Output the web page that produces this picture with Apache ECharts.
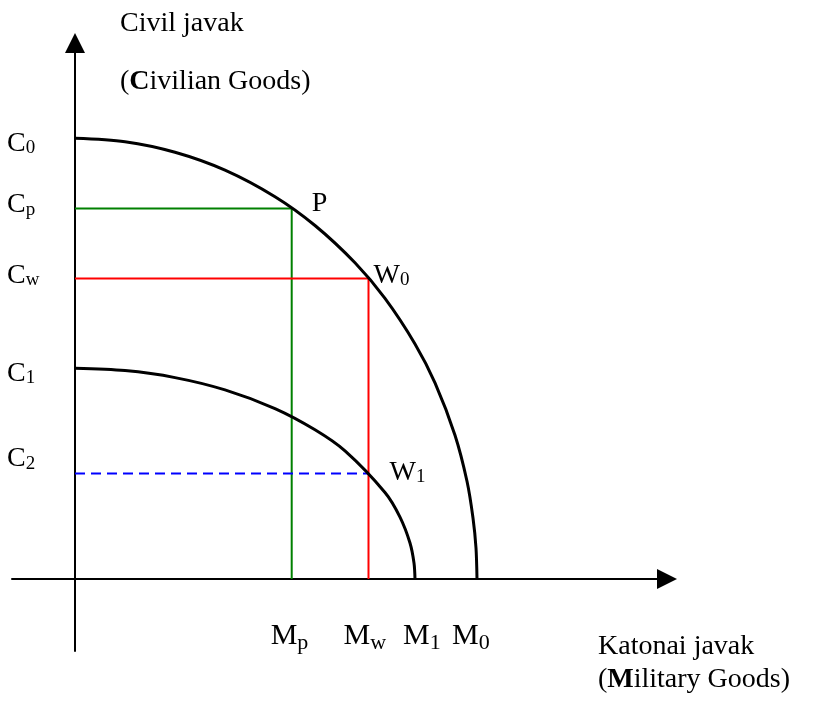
<!DOCTYPE html>
<html>
<head>
<meta charset="UTF-8">
<title>Civil javak - Katonai javak</title>
<script src="https://cdn.jsdelivr.net/npm/echarts@6/dist/echarts.min.js"></script>
<style>
    html,body{margin:0;padding:0;background:#fff;}
    #main{width:820px;height:701px;}
</style>
</head>
<body>
<div id="main"></div>
<script>
// tick labels on the axes
var yTickNames = ['C0', 'Cp', 'Cw', 'C1', 'C2'];
var yTickValues = [44.07, 37.0, 29.95, 21.07, 10.5];
var xTickNames = ['Mp', 'Mw', 'M1', 'M0'];
var xTickValues = [21.67, 29.35, 34.0, 40.2];

// named points
var pointNames = ['P', 'W0', 'W1'];
var pointX = [21.67, 29.35, 29.35];
var pointY = [37.05, 30.05, 10.55];

// the two curves
var outerCurve = [[0, 44.07], [5, 43.73], [10, 42.68], [15, 40.89], [20, 38.23],
    [24, 35.35], [28, 31.62], [31, 28.06], [34, 23.51], [36, 19.61], [38, 14.38],
    [39.2, 9.77], [39.8, 6.1], [40.1, 3.1], [40.2, 0]];
var innerCurve = [[0, 21.07], [5, 20.84], [10, 20.14], [15, 18.91], [20, 17.04],
    [24, 14.92], [27, 12.81], [31, 8.65], [32.5, 6.19], [33.5, 3.6], [33.9, 1.6], [34.0, 0]];

// label placement (pixels)
var yLabelShift = [[-68, 5], [-68, -4], [-68, -4], [-68, 5], [-68, -15]];
var xLabelShift = [[-21, 57], [-25, 57], [-12, 57], [-25, 57]];
var pointLabelShift = [[20, -5], [5, -3], [21, -1]];

var serif = '"Liberation Serif", "Times New Roman", serif';

function sub(name, big)
{
    var k = big ? 'B' : '';
    return '{m' + k + '|' + name.charAt(0) + '}{s' + k + '|' + name.slice(1) + '}';
}

var richText = {
    m: {fontFamily: serif, fontSize: 28, lineHeight: 36, color: '#000'},
    s: {fontFamily: serif, fontSize: 19, lineHeight: 36, color: '#000', padding: [10, 0, 0, 0]},
    mB: {fontFamily: serif, fontSize: 30, lineHeight: 38, color: '#000'},
    sB: {fontFamily: serif, fontSize: 22, lineHeight: 38, color: '#000', padding: [15, 0, 0, 0]}
};

function labelItems(names, xs, ys, shift, big)
{
    var items = [];
    for (var i = 0; i < names.length; i++) {
        items.push({
            value: [xs[i], ys[i]],
            label: {offset: shift[i], formatter: sub(names[i], big)}
        });
    }
    return items;
}

var zeros = function (n) { var a = []; for (var i = 0; i < n; i++) a.push(0); return a; };

var chart = echarts.init(document.getElementById('main'));

var labelStyle = {show: true, position: 'right', distance: 0, color: '#000', opacity: 1, rich: richText};

function labelSeries(name, data)
{
    return {
        name: name, type: 'scatter', symbolSize: 0, clip: false, silent: true,
        itemStyle: {opacity: 1},
        data: data,
        label: labelStyle
    };
}

var option = {
    backgroundColor: '#fff',
    animation: false,
    grid: {left: 12, right: 153, top: 43, bottom: 50},
    xAxis: {
        type: 'value', min: -6.3, max: 59.2,
        axisLine: {show: true, onZero: true, symbol: ['none', 'triangle'], symbolSize: [20, 20],
            lineStyle: {color: '#000', width: 2}},
        axisTick: {show: false}, axisLabel: {show: false}, splitLine: {show: false}
    },
    yAxis: {
        type: 'value', min: -7.2, max: 53.6,
        axisLine: {show: true, onZero: true, symbol: ['none', 'triangle'], symbolSize: [20, 20],
            lineStyle: {color: '#000', width: 2}},
        axisTick: {show: false}, axisLabel: {show: false}, splitLine: {show: false}
    },
    graphic: [
        {type: 'text', left: 120, top: 10, style: {text: 'Civil javak', font: '28px ' + serif, fill: '#000'}},
        {type: 'text', left: 120, top: 68, style: {text: '({b|C}ivilian Goods)', font: '28px ' + serif, fill: '#000',
            rich: {b: {fontFamily: serif, fontSize: 28, fontWeight: 'bold', color: '#000'}}}},
        {type: 'text', left: 598, top: 633, style: {text: 'Katonai javak', font: '28px ' + serif, fill: '#000'}},
        {type: 'text', left: 598, top: 666, style: {text: '({b|M}ilitary Goods)', font: '28px ' + serif, fill: '#000',
            rich: {b: {fontFamily: serif, fontSize: 28, fontWeight: 'bold', color: '#000'}}}}
    ],
    series: [
        {
            name: 'green', type: 'line', symbol: 'none', silent: true,
            data: [[0, pointY[0]], [pointX[0], pointY[0]], [pointX[0], 0]],
            lineStyle: {color: '#008000', width: 2}
        },
        {
            name: 'red', type: 'line', symbol: 'none', silent: true,
            data: [[0, pointY[1]], [pointX[1], pointY[1]], [pointX[1], 0]],
            lineStyle: {color: '#ff0000', width: 2}
        },
        {
            name: 'blue', type: 'line', symbol: 'none', silent: true,
            data: [[0, pointY[2]], [pointX[2], pointY[2]]],
            lineStyle: {color: '#0000ff', width: 2, type: [10, 6]}
        },
        {
            name: 'outer', type: 'line', symbol: 'none', smooth: 0.3, silent: true,
            data: outerCurve,
            lineStyle: {color: '#000', width: 3}
        },
        {
            name: 'inner', type: 'line', symbol: 'none', smooth: 0.3, silent: true,
            data: innerCurve,
            lineStyle: {color: '#000', width: 3}
        },
        labelSeries('yTicks', labelItems(yTickNames, zeros(yTickNames.length), yTickValues, yLabelShift, false)),
        labelSeries('xTicks', labelItems(xTickNames, xTickValues, zeros(xTickNames.length), xLabelShift, true)),
        labelSeries('points', labelItems(pointNames, pointX, pointY, pointLabelShift, false))
    ]
};

chart.setOption(option);
</script>
</body>
</html>
